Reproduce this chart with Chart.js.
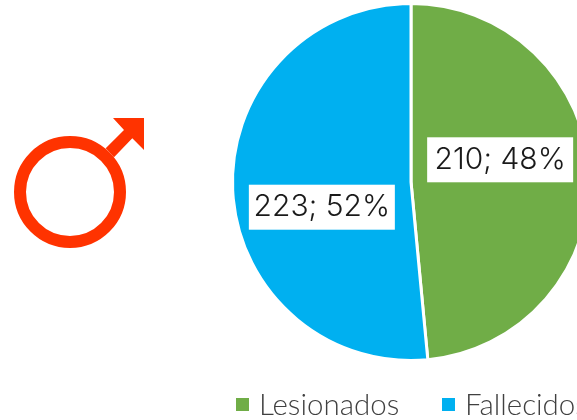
<!DOCTYPE html>
<html>
<head>
<meta charset="utf-8">
<script src="https://cdn.jsdelivr.net/npm/chart.js@4/dist/chart.umd.min.js"></script>
<style>
  html, body { margin: 0; padding: 0; background: #fff; overflow: hidden; }
  #wrap { position: relative; width: 577px; height: 420px; overflow: hidden; }
  #myChart { position: absolute; left: 0; top: 0; }
  #symbol { position: absolute; left: 0; top: 100px; }
</style>
</head>
<body>
<div id="wrap">
  <canvas id="myChart" width="822" height="420"></canvas>
  <svg id="symbol" width="160" height="160" viewBox="0 100 160 160">
    <circle cx="70" cy="192" r="50" fill="none" stroke="#ff3300" stroke-width="12"/>
    <polygon fill="#ff3300" points="113,118 144,118 144,150 132.3,138.3 114,157.3 105.7,148.3 124,130"/>
  </svg>
</div>
<script>
const categories = ['Lesionados', 'Fallecidos'];
const values = [210, 223];
const colors = ['#70ad47', '#00b0f0'];

const legendFont = 'Lato, sans-serif';
const labelFont = 'Inter, sans-serif';

// value; percent boxes, the reference moves them off the slice middle
const labelBoxes = {
  id: 'labelBoxes',
  afterDatasetsDraw(chart) {
    const ctx = chart.ctx;
    const total = values.reduce((a, b) => a + b, 0);
    const shiftY = [-18, 21];
    ctx.save();
    ctx.font = '300 30px ' + labelFont;
    ctx.textAlign = 'center';
    ctx.textBaseline = 'middle';
    chart.getDatasetMeta(0).data.forEach((arc, i) => {
      const pos = arc.tooltipPosition();
      const y = pos.y + shiftY[i];
      const text = values[i] + '; ' + Math.round(values[i] / total * 100) + '%';
      ctx.fillStyle = '#fff';
      ctx.fillRect(pos.x - 73, y - 22.5, 146, 45);
      ctx.fillStyle = '#1a1a1a';
      ctx.fillText(text, pos.x, y);
    });
    ctx.restore();
  },
};

// the built-in legend leaves too wide a gap after the swatch, so draw it here
const bottomLegend = {
  id: 'bottomLegend',
  afterDraw(chart) {
    const ctx = chart.ctx;
    const swatchX = [236, 442];
    ctx.save();
    ctx.font = '300 29.5px ' + legendFont;
    ctx.textBaseline = 'alphabetic';
    categories.forEach((name, i) => {
      ctx.fillStyle = colors[i];
      ctx.fillRect(swatchX[i], 398, 13, 13);
      ctx.fillStyle = '#404040';
      ctx.fillText(name, swatchX[i] + 23, 415);
    });
    ctx.restore();
  },
};

const ctx = document.getElementById('myChart').getContext('2d');

new Chart(ctx, {
  type: 'pie',
  data: {
    labels: categories,
    datasets: [
      {
        data: values,
        backgroundColor: colors,
        borderColor: '#fff',
        borderWidth: 3,
      },
    ],
  },
  options: {
    responsive: false,
    animation: false,
    layout: { padding: { top: 2, bottom: 58 } },
    plugins: {
      tooltip: { enabled: false },
      legend: { display: false },
    },
  },
  plugins: [labelBoxes, bottomLegend],
});
</script>
</body>
</html>
